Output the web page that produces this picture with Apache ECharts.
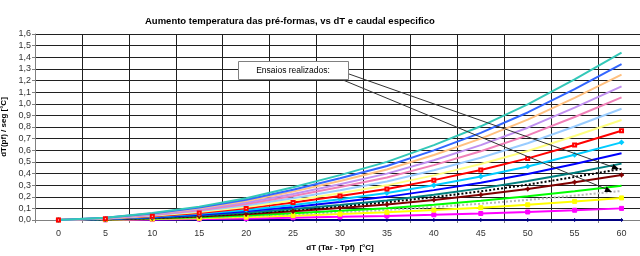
<!DOCTYPE html>
<html>
<head>
<meta charset="UTF-8">
<title>Aumento temperatura</title>
<script src="https://cdn.jsdelivr.net/npm/echarts@6/dist/echarts.min.js"></script>
<style>
  html, body { margin: 0; padding: 0; background: #fff; }
  #main { width: 640px; height: 256px; }
</style>
</head>
<body>
<div id="main"></div>
<script>
// dT (Tar - Tpf) categories
var xCats = ['0', '5', '10', '15', '20', '25', '30', '35', '40', '45', '50', '55', '60'];

// one curve per caudal especifico (top to bottom)
var sTeal      = [0, 0.020, 0.060, 0.115, 0.187, 0.281, 0.386, 0.500, 0.644, 0.806, 0.994, 1.210, 1.440];
var sBlueLt    = [0, 0.019, 0.056, 0.107, 0.174, 0.261, 0.359, 0.465, 0.599, 0.750, 0.925, 1.126, 1.340];
var sOrange    = [0, 0.018, 0.053, 0.100, 0.163, 0.244, 0.335, 0.434, 0.559, 0.700, 0.863, 1.050, 1.250];
var sLavender  = [0, 0.016, 0.048, 0.092, 0.150, 0.224, 0.308, 0.399, 0.514, 0.644, 0.794, 0.966, 1.150];
var sPink      = [0, 0.015, 0.044, 0.084, 0.137, 0.206, 0.283, 0.366, 0.472, 0.591, 0.728, 0.886, 1.055];
var sSky       = [0, 0.013, 0.040, 0.077, 0.124, 0.187, 0.256, 0.332, 0.428, 0.536, 0.660, 0.804, 0.957];
var sCream     = [0, 0.012, 0.036, 0.069, 0.112, 0.168, 0.230, 0.298, 0.384, 0.482, 0.593, 0.722, 0.860];
var sRed       = [0, 0.011, 0.032, 0.061, 0.100, 0.150, 0.206, 0.266, 0.343, 0.430, 0.530, 0.645, 0.768];
var sCyan      = [0, 0.009, 0.028, 0.053, 0.087, 0.130, 0.179, 0.232, 0.299, 0.374, 0.461, 0.561, 0.668];
var sBlue      = [0, 0.008, 0.024, 0.046, 0.075, 0.112, 0.154, 0.199, 0.257, 0.321, 0.396, 0.482, 0.574];
var sTealDk    = [0, 0.007, 0.020, 0.039, 0.063, 0.095, 0.130, 0.168, 0.217, 0.272, 0.335, 0.407, 0.485];
var sMaroon    = [0, 0.005, 0.016, 0.031, 0.050, 0.075, 0.104, 0.134, 0.173, 0.217, 0.267, 0.325, 0.387];
var sGreen     = [0, 0.004, 0.012, 0.024, 0.038, 0.058, 0.079, 0.102, 0.132, 0.165, 0.204, 0.248, 0.295];
var sYellow    = [0, 0.003, 0.008, 0.015, 0.025, 0.037, 0.051, 0.066, 0.085, 0.106, 0.131, 0.160, 0.190];
var sMagenta   = [0, 0.001, 0.004, 0.008, 0.013, 0.020, 0.027, 0.035, 0.045, 0.056, 0.069, 0.084, 0.100];
var sNavy      = [0, 0, 0, 0, 0, 0, 0, 0, 0, 0, 0, 0, 0];

// ensaios (dotted)
var ensaio1 = [0, 0.006, 0.018, 0.035, 0.057, 0.086, 0.118, 0.153, 0.197, 0.246, 0.304, 0.370, 0.440];
var ensaio2 = [0, 0.004, 0.011, 0.020, 0.033, 0.049, 0.067, 0.087, 0.112, 0.140, 0.173, 0.210, 0.250];

var FONT = '"Liberation Sans", Arial, sans-serif';
var plus = 'path://M3,0H5V3H8V5H5V8H3V5H0V3H3Z';

function curve(name, data, color, symbol, size) {
  return {
    name: name, type: 'line', data: data,
    symbol: symbol || 'none', symbolSize: size || 4,
    showSymbol: !!symbol,
    lineStyle: { color: color, width: 2 },
    itemStyle: { color: color, borderColor: color, borderWidth: 1 },
    emphasis: { disabled: true }
  };
}

var myChart = echarts.init(document.getElementById('main'));

var option = {
  animation: false,
  backgroundColor: '#fff',
  textStyle: { fontFamily: FONT },
  title: {
    text: 'Aumento temperatura das pré-formas, vs dT e caudal especifico',
    left: 140, top: 11,
    textStyle: { fontSize: 9.5, fontWeight: 'bold', color: '#000', fontFamily: FONT }
  },
  grid: { left: 35, right: -5, top: 34, bottom: 36, outerBoundsMode: 'none', containLabel: false },
  xAxis: {
    type: 'category',
    data: xCats,
    boundaryGap: true,
    name: 'dT (Tar - Tpf)  [°C]',
    nameLocation: 'middle',
    nameGap: 24,
    nameTextStyle: { fontSize: 8, fontWeight: 'bold', color: '#000' },
    axisLine: { lineStyle: { color: '#808080' } },
    axisTick: { show: true, interval: 0, length: 3, lineStyle: { color: '#808080' } },
    axisLabel: { fontSize: 9, color: '#333', margin: 9, interval: 0 },
    splitLine: { show: true, interval: 0, lineStyle: { color: '#202020', width: 1 } }
  },
  yAxis: {
    type: 'value',
    min: 0, max: 1.6, interval: 0.1,
    name: 'dT(pf) / seg [°C]',
    nameLocation: 'middle',
    nameGap: 22,
    nameTextStyle: { fontSize: 8, fontWeight: 'bold', color: '#000' },
    axisLine: { show: true, lineStyle: { color: '#808080' } },
    axisTick: { show: true, length: 3, lineStyle: { color: '#808080' } },
    axisLabel: {
      fontSize: 9, color: '#333', margin: 4,
      formatter: function (v) { return v.toFixed(1).replace('.', ','); }
    },
    splitLine: { show: true, lineStyle: { color: '#202020', width: 1 } }
  },
  series: [
    curve('navy', sNavy, '#000080', 'diamond', 3),
    curve('magenta', sMagenta, '#FF00FF', 'rect', 4),
    curve('yellow', sYellow, '#FFFF00', 'rect', 4),
    {
      name: 'ensaio 2', type: 'line', data: ensaio2, symbol: 'none',
      lineStyle: { color: '#b8b8b8', width: 2, type: 'dotted' }
    },
    curve('green', sGreen, '#00FF00'),
    curve('maroon', sMaroon, '#800000', plus, 4),
    {
      name: 'ensaio 1', type: 'line', data: ensaio1, symbol: 'none',
      lineStyle: { color: '#000', width: 2, type: 'dotted' }
    },
    curve('tealdk', sTealDk, '#008080'),
    curve('blue', sBlue, '#0000FF'),
    curve('cyan', sCyan, '#00CCFF', 'emptyDiamond', 3),
    curve('red', sRed, '#FF0000', 'emptyRect', 3),
    curve('cream', sCream, '#FFFF80'),
    curve('sky', sSky, '#99CCFF'),
    curve('pink', sPink, '#F080B8'),
    curve('lavender', sLavender, '#C090F0'),
    curve('orange', sOrange, '#FFC080'),
    curve('bluelt', sBlueLt, '#3366FF'),
    curve('teal', sTeal, '#33C8B8')
  ],
  graphic: [
    { type: 'line', shape: { x1: 349, y1: 74, x2: 613, y2: 167 }, style: { stroke: '#333', lineWidth: 1 }, z: 100 },
    { type: 'polygon', shape: { points: [[619, 169], [611.4, 169.5], [613.4, 163.9]] }, style: { fill: '#000' }, z: 100 },
    { type: 'line', shape: { x1: 343, y1: 80, x2: 606, y2: 189 }, style: { stroke: '#333', lineWidth: 1 }, z: 100 },
    { type: 'polygon', shape: { points: [[612, 192], [604.3, 192.1], [606.6, 186.5]] }, style: { fill: '#000' }, z: 100 },
    {
      type: 'rect', shape: { x: 238.5, y: 61.5, width: 110, height: 18 },
      style: { fill: '#fff', stroke: '#808080', lineWidth: 1 }, z: 101
    },
    {
      type: 'text', x: 293, y: 71, z: 102,
      style: { text: 'Ensaios realizados:', fontSize: 8.5, fontFamily: FONT, fill: '#000', align: 'center', verticalAlign: 'middle' }
    }
  ]
};
myChart.setOption(option);
</script>
</body>
</html>
